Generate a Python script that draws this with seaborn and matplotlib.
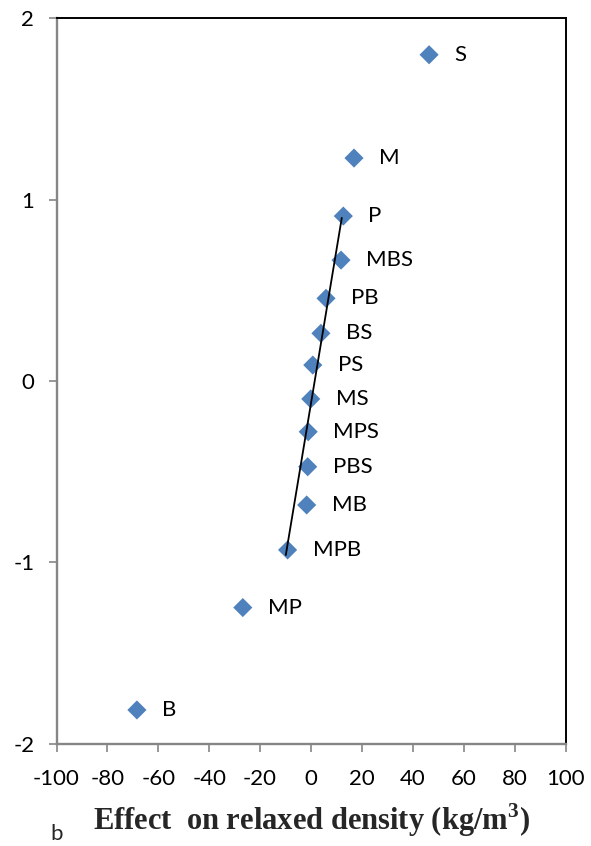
import matplotlib
matplotlib.use("Agg")
import matplotlib.pyplot as plt
import seaborn as sns
import pandas as pd

# Effects of factors and interactions
labels = ["S", "M", "P", "MBS", "PB", "BS", "PS", "MS", "MPS", "PBS", "MB", "MPB", "MP", "B"]
effect_density = [46.4, 16.9, 12.7, 11.8, 5.9, 3.9, 0.7, -0.1, -1.1, -1.3, -1.7, -9.2, -26.8, -68.4]
normal_score = [1.80, 1.23, 0.91, 0.667, 0.456, 0.263, 0.088, -0.099, -0.28, -0.473, -0.684, -0.932, -1.25, -1.815]

# Reference line through the central effects
line_x = [-9.9, 12.1]
line_y = [-0.96, 0.90]

x_ticks = [-100, -80, -60, -40, -20, 0, 20, 40, 60, 80, 100]
y_ticks = [-2, -1, 0, 1, 2]

sns.set_theme(style="white")
plt.rcParams["font.family"] = ["Lato", "DejaVu Sans"]
plt.rcParams["axes.unicode_minus"] = False

df = pd.DataFrame({"effect": effect_density, "score": normal_score, "label": labels})

fig = plt.figure(figsize=(5.91, 8.46), dpi=100)
ax = fig.add_axes([56.5 / 591, 1 - 743.5 / 846, 509 / 591, 725 / 846])

ax.plot(line_x, line_y, color="black", lw=1.3, zorder=3)
sns.scatterplot(data=df, x="effect", y="score", marker="D", s=95, color="#4F81BD",
                edgecolor="none", ax=ax, zorder=2)

for xv, yv, lab in zip(effect_density, normal_score, labels):
    ax.annotate(lab, (xv, yv), xytext=(18, 0), textcoords="offset points",
                ha="left", va="center", fontsize=16, color="black")

ax.set_xlim(-100, 100)
ax.set_ylim(-2, 2)
ax.set_xticks(x_ticks)
ax.set_yticks(y_ticks)
ax.tick_params(axis="both", labelsize=16, colors="#868686", labelcolor="black",
               length=6, width=1.2, direction="out")
ax.tick_params(axis="x", pad=12, bottom=True)
ax.tick_params(axis="y", pad=10, left=True)

for side in ["left", "bottom"]:
    ax.spines[side].set_color("#868686")
    ax.spines[side].set_linewidth(1.7)
for side in ["top", "right"]:
    ax.spines[side].set_color("black")
    ax.spines[side].set_linewidth(1.4)

ax.set_ylabel("")
ax.set_xlabel("Effect  on relaxed density (kg/m$^\\mathregular{3}$)",
              fontfamily="Liberation Serif", fontweight="bold", fontsize=22, labelpad=9)

fig.text(50 / 591, 1 - 840 / 846, "b", fontsize=16, ha="left", va="baseline")

fig.savefig("out.png", dpi=100)
